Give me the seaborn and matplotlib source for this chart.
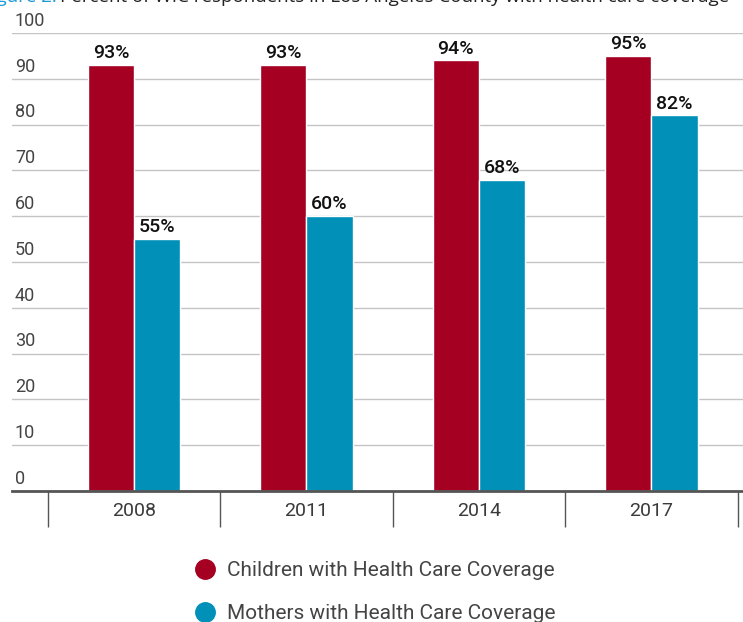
import matplotlib
matplotlib.use("Agg")
import matplotlib.pyplot as plt
import matplotlib.transforms as mtransforms
from matplotlib.lines import Line2D
import seaborn as sns
import pandas as pd

years = ["2008", "2011", "2014", "2017"]
children = [93, 93, 94, 95]
mothers = [55, 60, 68, 82]
series_names = ["Children with Health Care Coverage", "Mothers with Health Care Coverage"]
y_ticks = [0, 10, 20, 30, 40, 50, 60, 70, 80, 90, 100]
title_prefix = "Figure 2."
title_text = "Percent of WIC respondents in Los Angeles County with health care coverage"

RED = "#a50022"
BLUE = "#0090b8"

df = pd.DataFrame({
    "year": years * 2,
    "value": children + mothers,
    "series": [series_names[0]] * len(years) + [series_names[1]] * len(years),
})

sns.set_theme(style="white")
plt.rcParams["font.family"] = ["Roboto", "DejaVu Sans"]

W, H = 743, 622
fig = plt.figure(figsize=(W / 100, H / 100), dpi=100)
ax = fig.add_axes([12 / W, (H - 491) / H, (W - 12) / W, (491 - 33) / H])

sns.barplot(data=df, x="year", y="value", hue="series", order=years,
            hue_order=series_names, palette=[RED, BLUE], width=0.535,
            edgecolor="white", linewidth=1.0, saturation=1, legend=False, ax=ax)

ax.set_ylim(0, 100)
ax.set_xlim(-0.707, 3.531)
ax.set_xlabel("")
ax.set_ylabel("")

# gridlines
ax.set_yticks(y_ticks)
ax.yaxis.grid(True, color="#c4c4c4", linewidth=1)
ax.set_axisbelow(True)
ax.tick_params(axis="y", length=0, labelleft=False)
trans = mtransforms.blended_transform_factory(ax.transAxes, ax.transData)
for t in y_ticks:
    ax.text(0.004, t + 0.7, str(t), transform=trans, ha="left", va="bottom",
            fontsize=13, color="#444444")

for s in ["top", "right", "left"]:
    ax.spines[s].set_visible(False)
ax.spines["bottom"].set_color("#555555")
ax.spines["bottom"].set_linewidth(2)

ax.set_xticks(range(len(years)))
ax.set_xticklabels(years, fontsize=14, color="#3a3a3a")
ax.set_xticks([i - 0.5 for i in range(len(years) + 1)], minor=True)
ax.tick_params(axis="x", which="major", length=0, pad=8)
ax.tick_params(axis="x", which="minor", length=26, width=1, color="#555555",
               direction="out", bottom=True)

for cont in ax.containers:
    ax.bar_label(cont, fmt="%.0f%%", padding=2, fontsize=14, fontweight="medium",
                 color="#111111")

handles = [Line2D([], [], marker="o", linestyle="", markersize=14,
                  markerfacecolor=c, markeredgecolor=c) for c in (RED, BLUE)]
fig.legend(handles, series_names, loc="upper left",
           bbox_to_anchor=(195 / W, (H - 561) / H), frameon=False,
           fontsize=15, labelcolor="#444444", handlelength=1.0,
           handletextpad=0.55, labelspacing=1.15, borderpad=0, borderaxespad=0)

fig.text(57 / W, 1 + 3.5 / H, title_prefix, ha="right", va="center",
         fontsize=13.5, color="#1a9ad6", family=["Open Sans", "DejaVu Sans"])
fig.text(60 / W, 1 + 3.5 / H, title_text, ha="left", va="center",
         fontsize=13.5, color="#222222", family=["Open Sans", "DejaVu Sans"])

fig.savefig("out.png", dpi=100)
